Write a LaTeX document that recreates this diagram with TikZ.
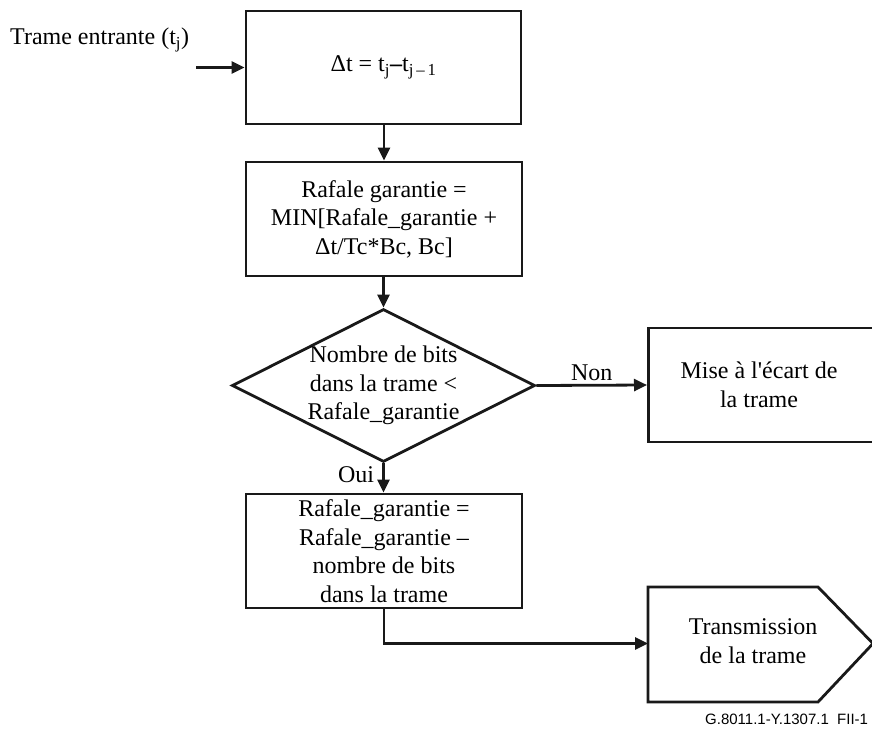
\documentclass[tikz,border=0pt]{standalone}
\usepackage{fontspec}
\setmainfont{Liberation Serif}
\newfontfamily\footfont{Liberation Sans}
\usetikzlibrary{arrows.meta,shapes.geometric}

\tikzset{
  flowline/.style={line width=2.8pt, draw=black!90},
  arr/.style={flowline, -{Triangle[length=13pt,width=12pt]}},
  stepbox/.style={rectangle, flowline, inner sep=0pt, align=center,
                  font=\fontsize{24}{28.5}\selectfont},
  txt/.style={inner sep=0pt, align=center, font=\fontsize{24}{28.5}\selectfont},
  decision/.style={diamond, flowline, inner sep=0pt},
}

\begin{document}
\begin{tikzpicture}[x=1pt,y=-1pt]
  \useasboundingbox (0,0) rectangle (872,729);

  % incoming frame
  \node[txt, anchor=west] (inlbl) at (10,40) {Trame entrante (t\textsubscript{j})};
  \coordinate (in) at (196,67.5);

  % time since previous frame
  \node[stepbox, minimum width=275, minimum height=113] (b1) at (383.5,67.5)
    {Δt = t\textsubscript{j}\textbf{–}t\textsubscript{j\,–\,1}};

  % token bucket refill
  \node[stepbox, minimum width=276, minimum height=114] (b2) at (384,219)
    {Rafale garantie =\\MIN[Rafale\_garantie +\\Δt/Tc*Bc, Bc]};

  % conformance test
  \node[decision, minimum width=303, minimum height=153] (d) at (383.5,385.5) {};
  \node[txt] (dt) at (d.center)
    {Nombre de bits\\dans la trame <\\Rafale\_garantie};

  % discard
  \node[stepbox, minimum width=228, minimum height=114, anchor=west] (b3) at (647,385)
    {};
  \node[txt] (b3t) at (759,385) {Mise à l\textquotesingle écart de\\la trame};

  % bucket decrement
  \node[stepbox, minimum width=276, minimum height=114] (b4) at (384,551)
    {Rafale\_garantie =\\Rafale\_garantie –\\nombre de bits\\dans la trame};

  % transmit
  \coordinate (tx) at (648,643.5);
  \draw[flowline] (648,587) -- (818,587) -- (873,643.5) -- (818,702) -- (648,702) -- cycle;
  \node[txt] (txt) at (753,641) {Transmission\\de la trame};

  % connectors
  \draw[arr] (in) -- (b1.west |- in);
  \draw[arr] (b1.south -| b2.north) -- (b2.north);
  \draw[arr] (b2.south -| d.north) -- (d.north);
  \draw[arr] (d.east) -- (b3.west) node[midway, above=3pt, txt] (non) {Non};
  \draw[arr] (d.south) -- (b4.north -| d.south) node[pos=0.4, left=8pt, txt] (oui) {Oui};
  \draw[arr] (b4.south) |- (tx);

  % figure reference
  \node[anchor=west, inner sep=0pt, font=\footfont\fontsize{15}{18}\selectfont] (ref)
    at (705,719) {G.8011.1-Y.1307.1\ \ FII-1};
\end{tikzpicture}
\end{document}
